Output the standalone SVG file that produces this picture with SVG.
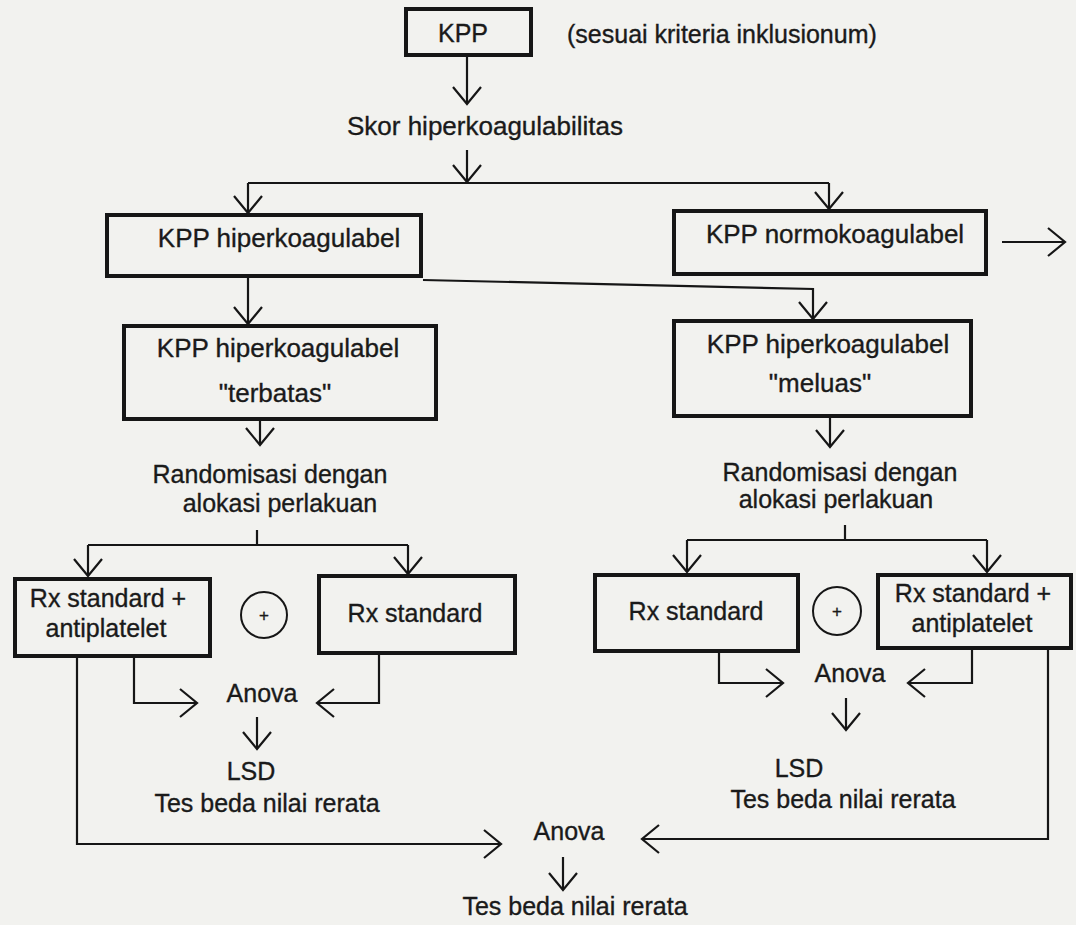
<svg xmlns="http://www.w3.org/2000/svg" width="1076" height="925" viewBox="0 0 1076 925">
  <defs>
    <style>
      .bg { fill: #f2f2ef; }
      .box { fill: none; stroke: #161616; stroke-width: 4; }
      .ring { fill: none; stroke: #161616; stroke-width: 2; }
      .wire { fill: none; stroke: #161616; stroke-width: 2.2; }
      .arrow { fill: none; stroke: #161616; stroke-width: 2.2; marker-end: url(#v); }
      text { font-family: "Liberation Sans", Arial, sans-serif; fill: #1a1a1a; stroke: #1a1a1a; stroke-width: 0.35; font-size: 25px; }
      .c { text-anchor: middle; }
      .big { font-size: 26px; }
      .plus { font-size: 17px; }
    </style>
    <marker id="v" markerUnits="userSpaceOnUse" viewBox="-20 -20 40 40" markerWidth="40" markerHeight="40" refX="0" refY="0" orient="auto" overflow="visible">
      <path d="M-17,-14 L0,0 L-17,14" fill="none" stroke="#161616" stroke-width="2.2"/>
    </marker>
  </defs>

  <rect class="bg" x="0" y="0" width="1076" height="925"/>

  <!-- connectors -->
  <g id="connectors">
    <path class="arrow" d="M467,57 V104"/>
    <path class="arrow" d="M467,150 V182"/>
    <path class="wire" d="M248,183 H829"/>
    <path class="arrow" d="M248,183 V213"/>
    <path class="arrow" d="M829,183 V209"/>
    <path class="arrow" d="M1002,242 H1065"/>
    <path class="arrow" d="M248,278 V324"/>
    <path class="arrow" d="M423,280 L813,289 V319"/>
    <path class="arrow" d="M260,421 V445"/>
    <path class="arrow" d="M830,418 V447"/>

    <!-- left randomisation split -->
    <path class="wire" d="M257,530 V545 M88,545 H408"/>
    <path class="arrow" d="M88,545 V576"/>
    <path class="arrow" d="M408,545 V574"/>

    <!-- right randomisation split -->
    <path class="wire" d="M845,525 V540 M687,540 H987"/>
    <path class="arrow" d="M687,540 V572"/>
    <path class="arrow" d="M987,540 V572"/>

    <!-- left anova -->
    <path class="arrow" d="M134,658 V703 H197"/>
    <path class="arrow" d="M379,655 V703 H317"/>
    <path class="arrow" d="M257,717 V749"/>

    <!-- right anova -->
    <path class="arrow" d="M719,653 V683 H783"/>
    <path class="arrow" d="M972,650 V683 H908"/>
    <path class="arrow" d="M846,698 V730"/>

    <!-- final anova -->
    <path class="arrow" d="M77,658 V844 H501"/>
    <path class="arrow" d="M1048,650 V839 H642"/>
    <path class="arrow" d="M563,857 V890"/>
  </g>

  <g id="kpp">
    <rect class="box" x="406" y="9" width="125" height="46"/>
    <text class="c" x="463" y="42" font-size="24">KPP</text>
  </g>
  <g id="kriteria">
    <text x="567" y="43">(sesuai kriteria inklusionum)</text>
  </g>
  <g id="skor">
    <text class="c big" x="485" y="135">Skor hiperkoagulabilitas</text>
  </g>

  <g id="hiperkoagulabel">
    <rect class="box" x="107" y="215" width="314" height="61"/>
    <text class="c big" x="279" y="247">KPP hiperkoagulabel</text>
  </g>
  <g id="normokoagulabel">
    <rect class="box" x="674" y="211" width="312" height="63"/>
    <text class="c big" x="835" y="243">KPP normokoagulabel</text>
  </g>

  <g id="terbatas">
    <rect class="box" x="124" y="326" width="312" height="93"/>
    <text class="c big" x="278" y="357">KPP hiperkoagulabel</text>
    <text class="c big" x="275" y="402">"terbatas"</text>
  </g>
  <g id="meluas">
    <rect class="box" x="674" y="321" width="297" height="95"/>
    <text class="c big" x="828" y="353">KPP hiperkoagulabel</text>
    <text class="c big" x="820" y="392">"meluas"</text>
  </g>

  <g id="randomisasi-left">
    <text class="c" x="270" y="483" font-size="25.5">Randomisasi dengan</text>
    <text class="c" x="280" y="512" font-size="25.5">alokasi perlakuan</text>
  </g>
  <g id="randomisasi-right">
    <text class="c" x="840" y="481" font-size="25.5">Randomisasi dengan</text>
    <text class="c" x="836" y="508" font-size="25.5">alokasi perlakuan</text>
  </g>

  <g id="rx-antiplatelet-left">
    <rect class="box" x="15" y="579" width="195" height="77"/>
    <text class="c" x="108" y="607">Rx standard +</text>
    <text class="c" x="106" y="637">antiplatelet</text>
  </g>
  <g id="plus-left">
    <circle class="ring" cx="264" cy="615" r="23"/>
    <text class="c plus" x="264" y="621">+</text>
  </g>
  <g id="rx-standard-left">
    <rect class="box" x="319" y="576" width="196" height="77"/>
    <text class="c" x="415" y="622">Rx standard</text>
  </g>

  <g id="rx-standard-right">
    <rect class="box" x="595" y="575" width="203" height="76"/>
    <text class="c" x="696" y="620">Rx standard</text>
  </g>
  <g id="plus-right">
    <circle class="ring" cx="837" cy="611" r="24"/>
    <text class="c plus" x="837" y="617">+</text>
  </g>
  <g id="rx-antiplatelet-right">
    <rect class="box" x="878" y="575" width="193" height="73"/>
    <text class="c" x="973" y="602">Rx standard +</text>
    <text class="c" x="972" y="632">antiplatelet</text>
  </g>

  <g id="anova-left">
    <text class="c" x="262" y="702">Anova</text>
  </g>
  <g id="lsd-left">
    <text class="c" x="251" y="780">LSD</text>
    <text class="c" x="267" y="812">Tes beda nilai rerata</text>
  </g>

  <g id="anova-right">
    <text class="c" x="850" y="682">Anova</text>
  </g>
  <g id="lsd-right">
    <text class="c" x="799" y="777">LSD</text>
    <text class="c" x="843" y="808">Tes beda nilai rerata</text>
  </g>

  <g id="anova-final">
    <text class="c" x="569" y="840">Anova</text>
  </g>
  <g id="tes-final">
    <text class="c" x="575" y="915">Tes beda nilai rerata</text>
  </g>
</svg>
